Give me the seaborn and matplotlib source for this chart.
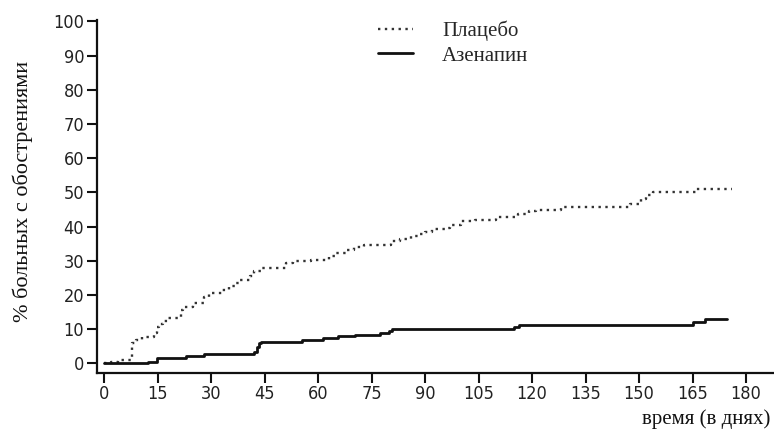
import numpy as np
import pandas as pd
import matplotlib
matplotlib.use('Agg')
import matplotlib.pyplot as plt
import seaborn as sns

# step curves: day of event, cumulative % of patients with relapse
placebo_days = [0, 2, 4, 7.8, 9, 10.5, 14, 14.8, 15.5, 16.5, 18, 21.5, 22, 25, 28, 29.5,
                33, 35, 37, 38, 41, 42, 44, 51, 53, 58, 63, 65, 68, 70, 73, 80.5,
                83, 86, 88, 90, 92, 96, 97, 100, 104, 110, 116, 119, 121, 128, 147.5,
                150.5, 152, 154, 166, 176]
placebo_pct = [0, 0.5, 1.0, 5.8, 6.8, 7.8, 8.8, 10.5, 11.5, 12.5, 13.2, 15.5, 16.5, 17.5, 19.5, 20.5,
               21.5, 22.5, 23.5, 24.3, 25.5, 27.0, 27.8, 29.3, 29.8, 30.2, 31.5, 32.3, 33.2, 34.0, 34.5, 35.8,
               36.5, 37.2, 37.8, 38.5, 39.3, 39.5, 40.5, 41.5, 42.0, 42.7, 43.8, 44.5, 44.8, 45.8, 46.5,
               48.0, 49.3, 50.0, 51.0, 51.0]

asen_days = [0, 12.4, 14.8, 23, 28, 42, 42.8, 43.3, 44, 55.5, 61.5, 65.6, 70.4, 77.4,
             79.8, 80.7, 114.8, 116.4, 165.2, 168.5, 174.7]
asen_pct = [0, 0.5, 1.5, 2.2, 2.8, 3.4, 4.9, 6.0, 6.3, 6.8, 7.5, 7.9, 8.4, 8.9,
            9.4, 10.0, 10.5, 11.2, 12.0, 13.0, 13.0]

x_ticks = list(range(0, 181, 15))
y_ticks = list(range(0, 101, 10))

serif = ['Liberation Serif', 'DejaVu Serif']
sans = ['DejaVu Sans', 'Liberation Sans']

sns.set_style('ticks')
plt.rcParams['font.family'] = sans

fig = plt.figure(figsize=(7.74, 4.34), dpi=100)
ax = fig.add_axes([0.125, 0.1412, 0.875, 0.8127])

df_p = pd.DataFrame({'day': placebo_days, 'pct': placebo_pct})
df_a = pd.DataFrame({'day': asen_days, 'pct': asen_pct})

sns.lineplot(data=df_p, x='day', y='pct', ax=ax, color='#333333', lw=1.7,
             drawstyle='steps-post', dashes=False, linestyle=(0, (1, 1.9)),
             estimator=None, label='Плацебо')
sns.lineplot(data=df_a, x='day', y='pct', ax=ax, color='#111111', lw=2.0,
             drawstyle='steps-post', estimator=None, label='Азенапин')

ax.set_xlim(-2.05, 187.8)
ax.set_ylim(-2.75, 100.4)
ax.set_xticks(x_ticks)
ax.set_yticks(y_ticks)
ax.tick_params(axis='both', length=7, width=1.5, color='#111111', pad=2)
for lab in ax.get_xticklabels() + ax.get_yticklabels():
    lab.set_fontsize(13)
    lab.set_fontstretch('condensed')
    lab.set_color('#222222')
for s in ['top', 'right']:
    ax.spines[s].set_visible(False)
for s in ['left', 'bottom']:
    ax.spines[s].set_linewidth(1.6)
    ax.spines[s].set_color('#111111')

ax.set_xlabel('')
ax.set_ylabel('')
fig.text(0.995, 0.012, 'время (в днях)', ha='right', va='bottom', fontsize=15,
         family=serif, color='#111111')
fig.text(0.03, 0.56, '% больных с обострениями', rotation=90, ha='center', va='center',
         fontsize=16, family=serif, color='#111111')

leg = ax.legend(loc='upper left', bbox_to_anchor=(0.477, 0.972), bbox_transform=fig.transFigure,
                borderaxespad=0, frameon=False,
                handlelength=1.7, handletextpad=1.4, labelspacing=0.25,
                prop={'family': serif, 'size': 15})

fig.savefig('out.png', dpi=100)
